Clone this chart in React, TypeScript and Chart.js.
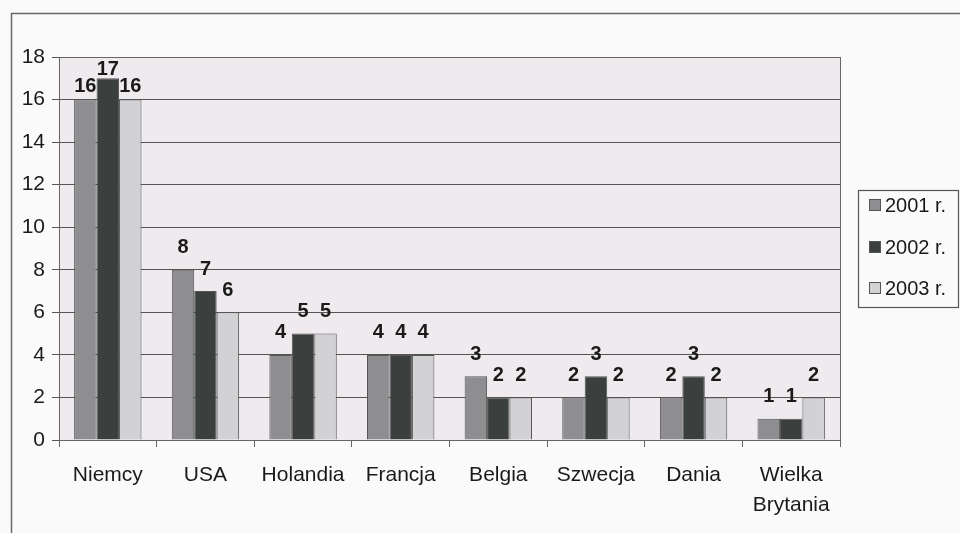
import React, { useEffect, useRef } from "react";
import { Chart, registerables } from "chart.js";

Chart.register(...registerables);

const categories: (string | string[])[] = [
  "Niemcy",
  "USA",
  "Holandia",
  "Francja",
  "Belgia",
  "Szwecja",
  "Dania",
  ["Wielka", "Brytania"],
];
const seriesNames = ["2001 r.", "2002 r.", "2003 r."];
const values2001 = [16, 8, 4, 4, 3, 2, 2, 1];
const values2002 = [17, 7, 5, 4, 2, 3, 3, 1];
const values2003 = [16, 6, 5, 4, 2, 2, 2, 2];
const seriesColors = ["#8e8e90", "#3b403f", "#d2d1d4"];

const FONT = "'Liberation Sans', Arial, sans-serif";

const framePlugin = {
  id: "frame",
  beforeDraw(chart: any) {
    const ctx = chart.ctx;
    const a = chart.chartArea;
    ctx.save();
    ctx.fillStyle = "#fbfafb";
    ctx.fillRect(0, 0, chart.width, chart.height);
    ctx.strokeStyle = "#6a6a6a";
    ctx.lineWidth = 1.5;
    ctx.beginPath();
    ctx.moveTo(11.5, chart.height);
    ctx.lineTo(11.5, 13.5);
    ctx.lineTo(chart.width, 13.5);
    ctx.stroke();
    ctx.fillStyle = "#eeeaee";
    ctx.fillRect(a.left, a.top, a.right - a.left, a.bottom - a.top);
    ctx.restore();
  },
  afterDraw(chart: any) {
    const ctx = chart.ctx;
    const a = chart.chartArea;
    ctx.save();
    ctx.strokeStyle = "#666";
    ctx.lineWidth = 1;
    ctx.strokeRect(a.left + 0.5, a.top + 0.5, a.right - a.left, a.bottom - a.top);
    const lx = 858, ly = 190, lw = 100, lh = 117;
    ctx.fillStyle = "#fbfafb";
    ctx.fillRect(lx, ly, lw, lh);
    ctx.strokeStyle = "#555";
    ctx.lineWidth = 1.2;
    ctx.strokeRect(lx + 0.5, ly + 0.5, lw, lh);
    const ys = [205, 247, 288];
    ctx.font = `20px ${FONT}`;
    ctx.textBaseline = "middle";
    ctx.textAlign = "left";
    seriesNames.forEach((n, i) => {
      ctx.fillStyle = seriesColors[i];
      ctx.fillRect(869, ys[i] - 6, 12, 12);
      ctx.strokeStyle = "#555";
      ctx.lineWidth = 1;
      ctx.strokeRect(869.5, ys[i] - 5.5, 11, 11);
      ctx.fillStyle = "#1a1a1a";
      ctx.fillText(n, 885, ys[i] + 1);
    });
    ctx.restore();
  },
};

const labelPlugin = {
  id: "barLabels",
  afterDatasetsDraw(chart: any) {
    const ctx = chart.ctx;
    ctx.save();
    ctx.font = `bold 20px ${FONT}`;
    ctx.fillStyle = "#1a1a1a";
    ctx.textAlign = "center";
    ctx.textBaseline = "middle";
    const top = chart.chartArea.top;
    chart.data.datasets.forEach((ds: any, di: number) => {
      const meta = chart.getDatasetMeta(di);
      meta.data.forEach((bar: any, i: number) => {
        let cy = bar.y - 22;
        if (cy < top + 35) cy = Math.max(bar.y - 13, top + 12);
        ctx.fillText(String(ds.data[i]), bar.x, cy);
      });
    });
    ctx.restore();
  },
};

export default function App() {
  const ref = useRef<HTMLCanvasElement | null>(null);
  useEffect(() => {
    document.body.style.margin = "0";
    const canvas = ref.current!;
    const datasets = [values2001, values2002, values2003].map((d, i) => ({
      label: seriesNames[i],
      data: d,
      backgroundColor: seriesColors[i],
      borderColor: "#555",
      borderWidth: 1,
      categoryPercentage: 0.69,
      barPercentage: 1.0,
    }));
    const chart = new Chart(canvas, {
      type: "bar",
      data: { labels: categories as any, datasets },
      options: {
        responsive: false,
        animation: false,
        layout: { padding: { top: 57, right: 120, left: 0, bottom: 0 } },
        plugins: { legend: { display: false }, tooltip: { enabled: false } },
        scales: {
          x: {
            offset: true,
            grid: {
              offset: true,
              drawOnChartArea: false,
              drawTicks: true,
              tickLength: 7,
              color: "#666",
            },
            border: { color: "#666" },
            ticks: {
              color: "#1a1a1a",
              font: { family: FONT, size: 21, lineHeight: 1.4 },
              padding: 14,
              maxRotation: 0,
              autoSkip: false,
            },
            afterFit: (s: any) => {
              s.height = 93;
            },
          },
          y: {
            min: 0,
            max: 18,
            ticks: {
              stepSize: 2,
              color: "#1a1a1a",
              font: { family: FONT, size: 21 },
              padding: 7,
            },
            grid: { color: "#555", tickLength: 7, lineWidth: 1 },
            border: { color: "#666" },
            afterFit: (s: any) => {
              s.width = 59;
            },
          },
        },
      },
      plugins: [framePlugin, labelPlugin],
    });
    return () => chart.destroy();
  }, []);
  return <canvas ref={ref} width={960} height={533} style={{ display: "block" }} />;
}
